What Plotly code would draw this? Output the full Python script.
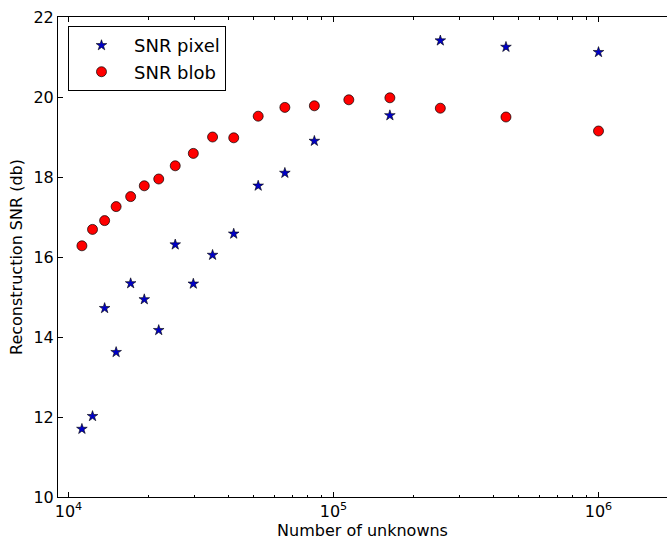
import plotly.graph_objects as go

# Number of unknowns (x)
unknowns = [11236, 12321, 13689, 15129, 17161, 19321, 21904, 25281, 29584, 34969,
            42025, 51984, 65536, 84681, 114244, 163216, 253009, 447561, 1000000]
# SNR pixel (stars); one point hidden behind a blob marker
snr_pixel = [11.70, 12.02, 14.72, 13.62, 15.34, 14.94, 14.17, 16.31, 15.33, 16.05,
             16.58, 17.78, 18.10, 18.90, None, 19.54, 21.41, 21.25, 21.12]
# SNR blob (circles)
snr_blob = [16.28, 16.69, 16.91, 17.26, 17.51, 17.78, 17.95, 18.28, 18.59, 19.00,
            18.98, 19.52, 19.74, 19.78, 19.93, 19.98, 19.72, 19.50, 19.15]

x_tickvals = [1e4, 1e5, 1e6]
x_ticktext = ["10<sup>4</sup>", "10<sup>5</sup>", "10<sup>6</sup>"]
y_tickvals = [10, 12, 14, 16, 18, 20, 22]

minor_vals = [m * 10 ** e for e in (3, 4, 5, 6) for m in range(2, 10)]

FONT = "DejaVu Sans"

fig = go.Figure()
fig.add_trace(go.Scatter(
    x=unknowns, y=snr_pixel, mode="markers", name="SNR pixel",
    marker=dict(symbol="star", size=8, color="#0000c8",
                line=dict(color="black", width=0.6)),
))
fig.add_trace(go.Scatter(
    x=unknowns, y=snr_blob, mode="markers", name="SNR blob",
    marker=dict(symbol="circle", size=10, color="#ff0000",
                line=dict(color="black", width=0.7)),
))

fig.update_layout(
    width=667, height=547,
    margin=dict(l=58, r=0, t=17, b=50),
    paper_bgcolor="white", plot_bgcolor="white",
    font=dict(family=FONT, size=16, color="black"),
    showlegend=True,
    legend=dict(
        x=0.0164, y=0.981, xanchor="left", yanchor="top",
        bgcolor="white", bordercolor="black", borderwidth=1,
        font=dict(family=FONT, size=18, color="black"),
        itemwidth=55,
    ),
    xaxis=dict(
        type="log", range=[3.9604, 6.2585],
        tickmode="array", tickvals=x_tickvals, ticktext=x_ticktext,
        ticks="inside", ticklen=5, tickwidth=1, tickcolor="black",
        showline=True, linecolor="black", linewidth=1, mirror="ticks",
        showgrid=False, zeroline=False,
        minor=dict(tickmode="array", tickvals=minor_vals, ticks="inside",
                   ticklen=2.5, tickwidth=1, tickcolor="black", showgrid=False),
        title=dict(text="Number of unknowns", font=dict(family=FONT, size=16),
                   standoff=4),
        automargin=False,
        tickfont=dict(family=FONT, size=16),
    ),
    yaxis=dict(
        range=[9.9999, 22.0001],
        tickmode="array", tickvals=y_tickvals,
        ticks="inside", ticklen=5, tickwidth=1, tickcolor="black",
        showline=True, linecolor="black", linewidth=1, mirror=False,
        showgrid=False, zeroline=False,
        title=dict(text="Reconstruction SNR (db)", font=dict(family=FONT, size=16),
                   standoff=6),
        automargin=False,
        tickfont=dict(family=FONT, size=16),
    ),
)

# remove the browser's default 8px body margin so the figure fills the window
fig.write_html("out.html", config={"displayModeBar": False},
               post_script="document.body.style.margin='0';")
